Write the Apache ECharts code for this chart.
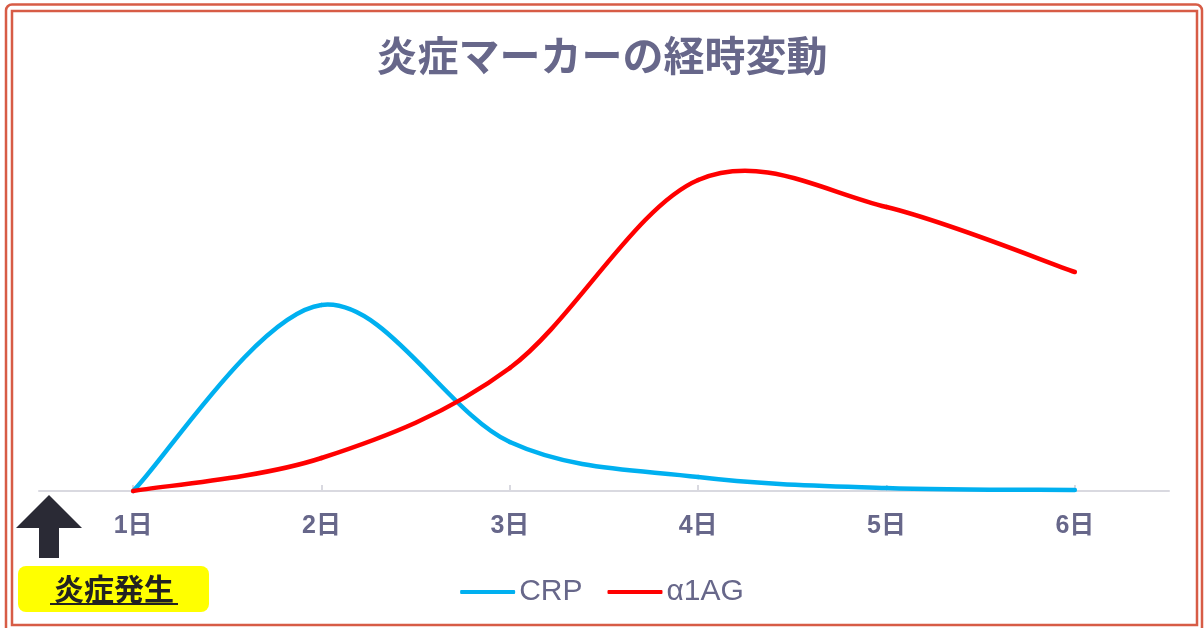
<!DOCTYPE html>
<html><head><meta charset="utf-8">
<script src="https://cdn.jsdelivr.net/npm/echarts@6/dist/echarts.min.js"></script>
<style>html,body{margin:0;padding:0;background:#fff}#c{width:1204px;height:628px}</style>
</head><body><div id="c"></div>
<script>
const categories = ['1日','2日','3日','4日','5日','6日'];
const crp = [0, 186, 49, 14, 3, 1];
const a1ag = [0, 33, 123, 311, 284, 219];
const seriesNames = ['CRP','α1AG'];
const titleText = '炎症マーカーの経時変動';
const eventLabel = '炎症発生';

const FONT = '"Liberation Sans","Noto Sans CJK JP",sans-serif';
const TXT = '#67678a';

// Catmull-Rom style smoothing (like spreadsheet smoothed lines), positioned through the axes via api.coord
function smoothRenderer(values, color){
  return function(params, api){
    const i = params.dataIndex;
    const n = values.length;
    if (i >= n - 1) return {type:'group', children:[]};
    const P = k => api.coord([Math.max(0, Math.min(n-1, k)), values[Math.max(0, Math.min(n-1, k))]]);
    const p0 = P(i-1), p1 = P(i), p2 = P(i+1), p3 = P(i+2);
    const t = 1/6;
    return {
      type:'bezierCurve',
      shape:{x1:p1[0],y1:p1[1],x2:p2[0],y2:p2[1],
        cpx1:p1[0]+(p2[0]-p0[0])*t, cpy1:p1[1]+(p2[1]-p0[1])*t,
        cpx2:p2[0]-(p3[0]-p1[0])*t, cpy2:p2[1]-(p3[1]-p1[1])*t},
      style:{stroke:color,lineWidth:4.5,fill:null,lineCap:'round'}
    };
  };
}

const chart = echarts.init(document.getElementById('c'));
chart.setOption({
  animation:false,
  backgroundColor:'#fff',
  title:{text:titleText,left:'center',top:35,padding:0,textStyle:{fontFamily:'"Noto Sans CJK JP",sans-serif',fontSize:41,fontWeight:'bold',color:TXT}},
  grid:{left:39,right:35,top:151,bottom:137},
  legend:{top:572,left:'center',itemWidth:55,itemHeight:4,itemGap:25,
    icon:'roundRect',
    textStyle:{fontFamily:FONT,fontSize:30,color:TXT,padding:[0,0,0,-1]},
    data:seriesNames},
  xAxis:{type:'category',data:categories,boundaryGap:true,
    axisLine:{lineStyle:{color:'#d9d9e0',width:2}},
    axisTick:{show:true,alignWithLabel:true,inside:true,length:6,lineStyle:{color:'#d9d9e0',width:2}},
    axisLabel:{margin:23,fontFamily:FONT,fontSize:25,fontWeight:'bold',color:TXT}},
  yAxis:{type:'value',min:0,max:340,show:false,splitLine:{show:false}},
  series:[
    {name:seriesNames[0],type:'custom',data:crp.map((v,i)=>[i,v]),encode:{x:0,y:1},
      renderItem:smoothRenderer(crp,'#00b0f0'),itemStyle:{color:'#00b0f0'}},
    {name:seriesNames[1],type:'custom',data:a1ag.map((v,i)=>[i,v]),encode:{x:0,y:1},
      renderItem:smoothRenderer(a1ag,'#ff0000'),itemStyle:{color:'#ff0000'}}
  ],
  graphic:[
    {type:'rect',shape:{x:6,y:4.5,width:1196,height:630,r:6},style:{fill:'none',stroke:'#d75c46',lineWidth:2.5},z:10},
    {type:'rect',shape:{x:12,y:11,width:1185,height:614},style:{fill:'none',stroke:'#d75c46',lineWidth:2.5},z:10},
    {type:'polygon',shape:{points:[[49,495],[82,528],[59,528],[59,558],[39,558],[39,528],[16,528]]},style:{fill:'#2a2a35'},z:10},
    {type:'rect',shape:{x:18,y:566,width:191,height:46,r:8},style:{fill:'#ffff00'},z:10},
    {type:'text',style:{text:eventLabel,x:114,y:589,align:'center',verticalAlign:'middle',
      font:'bold 30px "Noto Sans CJK JP",sans-serif',fill:'#222'},z:11},
    {type:'line',shape:{x1:50,y1:604,x2:178,y2:604},style:{stroke:'#222',lineWidth:2},z:11}
  ]
});
</script></body></html>
